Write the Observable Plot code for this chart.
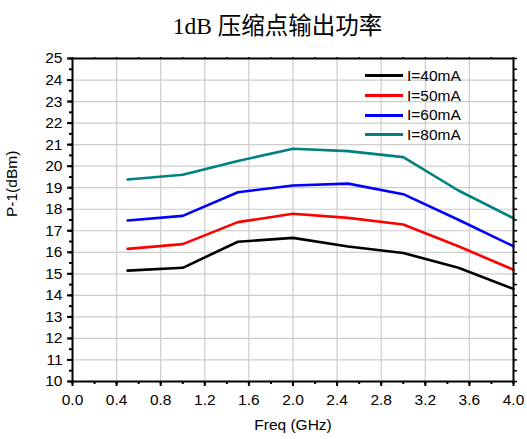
<!DOCTYPE html>
<html>
<head>
<meta charset="utf-8">
<script src="https://cdn.jsdelivr.net/npm/d3@7"></script>
<script src="https://cdn.jsdelivr.net/npm/@observablehq/plot@0.6"></script>
<style>
  body { margin: 0; background: #fff; }
  #wrap { position: relative; width: 527px; height: 439px; font-family: "Liberation Sans", Arial, sans-serif; }
  #title { height: 40px; width: 527px; box-sizing: border-box; padding-left: 28px; padding-top: 7px; text-align: center;
           font-family: "Liberation Serif", "Times New Roman", "Noto Sans CJK SC", serif; font-size: 23.5px; color: #000; }
  #legend { position: absolute; left: 365px; top: 66px; font-size: 15.5px; color: #000; }
  .row { display: flex; align-items: center; height: 19.7px; }
  .sw { width: 38px; height: 3px; margin-right: 4px; }
</style>
</head>
<body>
<div id="wrap">
  <div id="title">1dB 压缩点输出功率</div>
  <div id="chart"></div>
  <div id="legend"></div>
</div>
<script>
const freq = [0.5, 1.0, 1.5, 2.0, 2.5, 3.0, 3.5, 4.0];
const seriesNames = ["I=40mA", "I=50mA", "I=60mA", "I=80mA"];
const seriesColors = ["#000000", "#ff0000", "#0000ff", "#008080"];
const p40 = [15.15, 15.28, 16.49, 16.67, 16.27, 15.97, 15.28, 14.30];
const p50 = [16.16, 16.38, 17.40, 17.79, 17.60, 17.29, 16.28, 15.19];
const p60 = [17.48, 17.69, 18.79, 19.10, 19.19, 18.70, 17.51, 16.28];
const p80 = [19.38, 19.60, 20.24, 20.81, 20.70, 20.42, 18.87, 17.58];
const xTicks = [0, 0.4, 0.8, 1.2, 1.6, 2.0, 2.4, 2.8, 3.2, 3.6, 4.0];
const yTicks = [10, 11, 12, 13, 14, 15, 16, 17, 18, 19, 20, 21, 22, 23, 24, 25];
const xLabel = "Freq (GHz)";
const yLabel = "P-1(dBm)";

const allSeries = [p40, p50, p60, p80];
const data = [];
allSeries.forEach((vals, i) => vals.forEach((v, j) => data.push({x: freq[j], y: v, s: seriesNames[i]})));

const xMinor = d3.range(0, 4.001, 0.2).map(d => +d.toFixed(2));
const yMinor = d3.range(10, 25.001, 0.5);

const chart = Plot.plot({
  width: 527,
  height: 399,
  marginTop: 18,
  marginLeft: 72,
  marginRight: 14,
  marginBottom: 58,
  style: {fontFamily: "'Liberation Sans', Arial, sans-serif", fontSize: "16px", color: "#000", background: "#fff"},
  x: {domain: [0, 4]},
  y: {domain: [10, 25]},
  color: {domain: seriesNames, range: seriesColors},
  marks: [
    Plot.gridX(xTicks, {stroke: "#cccccc", strokeOpacity: 1, strokeWidth: 1.2}),
    Plot.gridY(yTicks, {stroke: "#cccccc", strokeOpacity: 1, strokeWidth: 1.2}),
    Plot.line(data, {x: "x", y: "y", stroke: "s", z: "s", strokeWidth: 2.6}),
    Plot.axisX(xMinor, {tickSize: 3, strokeWidth: 2, tickFormat: () => "", label: null}),
    Plot.axisX(xTicks, {tickSize: 5, strokeWidth: 2, tickFormat: d => d.toFixed(1), tickPadding: 7, fontSize: 15.5, label: null}),
    Plot.axisY(yMinor, {tickSize: 3, strokeWidth: 2, tickFormat: () => "", label: null}),
    Plot.axisY(yTicks, {tickSize: 5, strokeWidth: 2, tickPadding: 5, fontSize: 15.5, label: null}),
    Plot.axisY(yMinor, {anchor: "right", tickSize: 3, strokeWidth: 1.5, tickFormat: () => "", label: null}),
    Plot.axisX(xMinor, {anchor: "top", tickSize: 2, strokeWidth: 1.5, tickFormat: () => "", label: null}),
    Plot.text([xLabel], {frameAnchor: "bottom", dy: 48, fontSize: 15.5, fill: "#000"}),
    Plot.text([yLabel], {frameAnchor: "left", dx: -60, dy: -3, rotate: -90, fontSize: 15.5, fill: "#000"}),
    Plot.frame({stroke: "#000", strokeWidth: 2})
  ]
});
document.getElementById("chart").appendChild(chart);

const leg = document.getElementById("legend");
seriesNames.forEach((n, i) => {
  const r = document.createElement("div");
  r.className = "row";
  r.innerHTML = `<div class="sw" style="background:${seriesColors[i]}"></div><span>${n}</span>`;
  leg.appendChild(r);
});
</script>
</body>
</html>
